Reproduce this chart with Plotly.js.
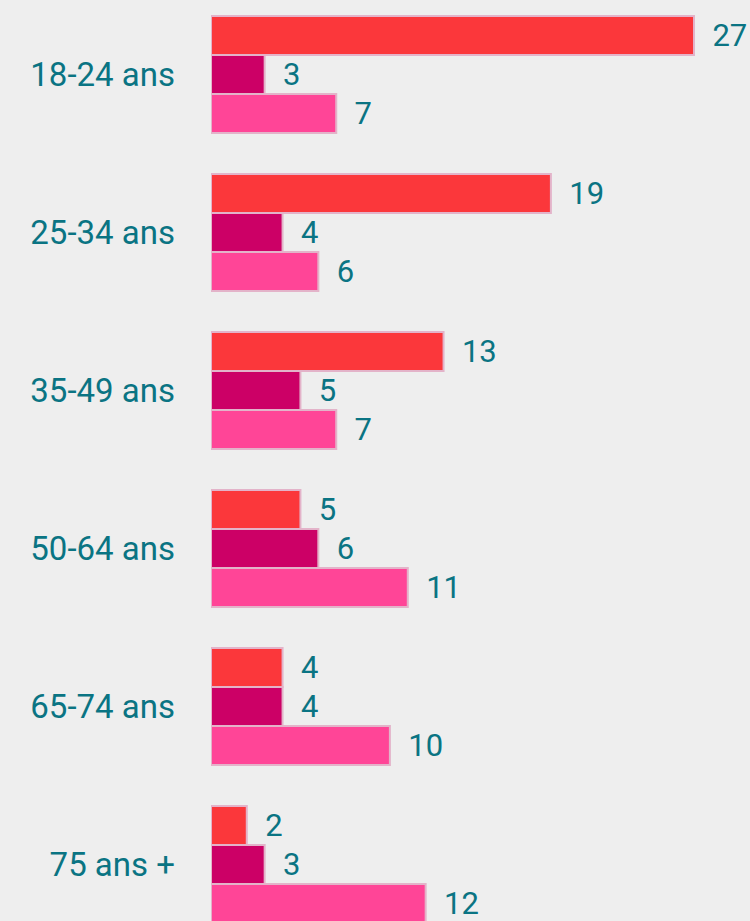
<!DOCTYPE html>
<html>
<head>
<meta charset="utf-8">
<script src="https://cdn.plot.ly/plotly-3.0.1.min.js"></script>
<style>html,body{margin:0;padding:0;background:#eeeeee;}#chart{width:750px;height:921px;}</style>
</head>
<body>
<div id="chart"></div>
<script>
const categories = ["18-24 ans", "25-34 ans", "35-49 ans", "50-64 ans", "65-74 ans", "75 ans +"];
const seriesA = [27, 19, 13, 5, 4, 2];
const seriesB = [3, 4, 5, 6, 4, 3];
const seriesC = [7, 6, 7, 11, 10, 12];
const seriesNames = ["Série 1", "Série 2", "Série 3"];
const colors = ["#fb373b", "#cc0066", "#ff4597"];

const textColor = "#0a7483";
const valueFont = {family: "Roboto, 'Open Sans', sans-serif", size: 31, color: textColor};
const tickFont = {family: "Roboto, 'Open Sans', sans-serif", size: 33, color: textColor};

const traces = [seriesA, seriesB, seriesC].map((vals, i) => ({
  type: "bar",
  orientation: "h",
  name: seriesNames[i],
  y: categories,
  x: vals,
  text: vals.map(v => "\u00a0\u00a0" + v),
  textposition: "outside",
  textfont: valueFont,
  constraintext: "none",
  cliponaxis: false,
  marker: {color: colors[i], line: {color: "#e3b3c9", width: 2}},
  hoverinfo: "skip"
}));

const layout = {
  width: 750,
  height: 921,
  paper_bgcolor: "#eeeeee",
  plot_bgcolor: "#eeeeee",
  margin: {l: 211, r: 0, t: 0, b: 0, pad: 0},
  barmode: "group",
  bargap: 0.26,
  bargroupgap: 0,
  showlegend: false,
  font: valueFont,
  xaxis: {range: [0, 30.13], visible: false, fixedrange: true},
  yaxis: {
    type: "category",
    range: [5.358, -0.4715],
    showgrid: false, zeroline: false, showline: false,
    ticks: "",
    ticklabelstandoff: 35,
    tickfont: tickFont,
    fixedrange: true
  }
};

Plotly.newPlot("chart", traces, layout, {displayModeBar: false, staticPlot: true});
</script>
</body>
</html>
